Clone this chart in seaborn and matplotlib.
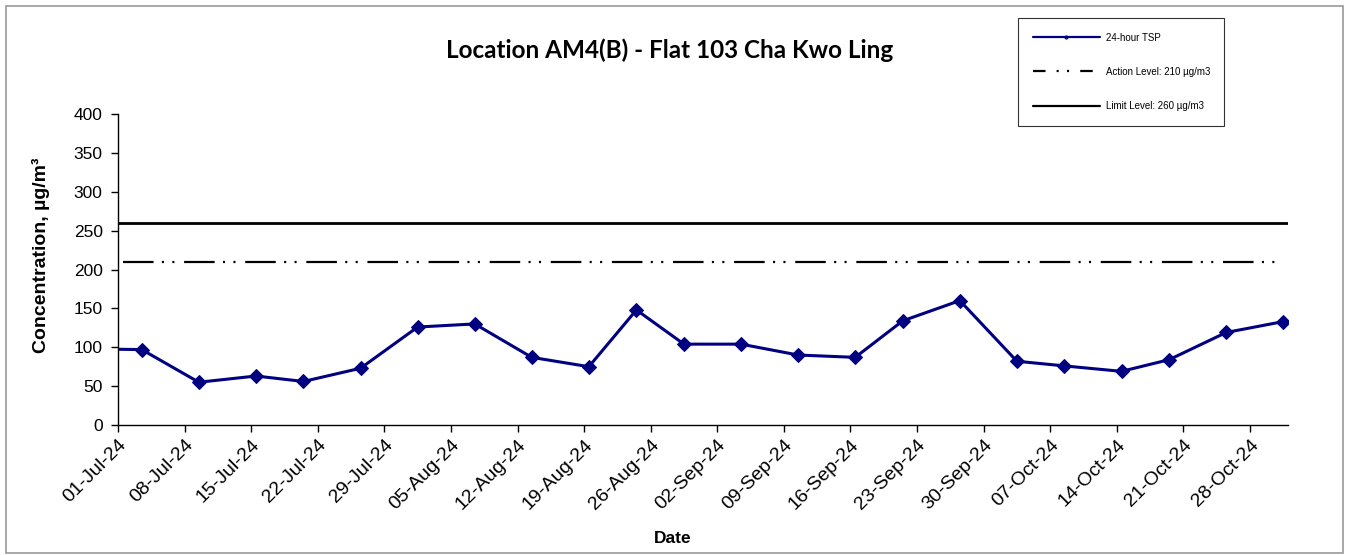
import pandas as pd
import matplotlib
matplotlib.use("Agg")
import matplotlib.pyplot as plt
from matplotlib.lines import Line2D
from matplotlib.patches import Rectangle
import seaborn as sns

# 24-hour TSP readings (first point is before the axis start and gets clipped)
dates = ["2024-06-27", "2024-07-03", "2024-07-09", "2024-07-15", "2024-07-20",
         "2024-07-26", "2024-08-01", "2024-08-07", "2024-08-13", "2024-08-19",
         "2024-08-24", "2024-08-29", "2024-09-04", "2024-09-10", "2024-09-16",
         "2024-09-21", "2024-09-27", "2024-10-03", "2024-10-08", "2024-10-14",
         "2024-10-19", "2024-10-25", "2024-10-31"]
tsp = [98, 97, 55, 63, 56, 73, 126, 130, 87, 75,
       148, 104, 104, 90, 87, 134, 160, 82, 76, 69,
       84, 119, 133]

action_level = 210
limit_level = 260
title = "Location AM4(B) - Flat 103 Cha Kwo Ling"
legend_labels = ["24-hour TSP", "Action Level: 210 µg/m3", "Limit Level: 260 µg/m3"]
x_start = "2024-07-01"
x_end = "2024-11-01"

sns.set_theme(style="white")
plt.rcParams["font.family"] = ["Liberation Sans", "DejaVu Sans"]
plt.rcParams["lines.scale_dashes"] = False
for k in ["text.color", "axes.labelcolor", "xtick.color", "ytick.color"]:
    plt.rcParams[k] = "black"

df = pd.DataFrame({"date": pd.to_datetime(dates) + pd.Timedelta(hours=12), "tsp": tsp})

W, H = 1349, 555
fig = plt.figure(figsize=(W / 100, H / 100), dpi=100)
fig.patches.append(Rectangle((6 / W, 2 / H), (W - 12) / W, (H - 8) / H,
                             transform=fig.transFigure, fill=False,
                             edgecolor="#999999", linewidth=1.2))
ax = fig.add_axes([118 / W, (H - 425) / H, (1288 - 118) / W, (425 - 114) / H])

sns.lineplot(data=df, x="date", y="tsp", ax=ax, color="#000080", linewidth=2.2,
             marker="D", markersize=7, markeredgecolor="#000080")
ax.axhline(limit_level, color="black", linewidth=2.0)
ax.axhline(action_level, color="black", linewidth=1.6,
           dashes=(22, 6, 1.5, 6, 1.5, 7), xmin=0.004, xmax=0.996)

ax.set_xlim(pd.Timestamp(x_start), pd.Timestamp(x_end))
ax.set_ylim(0, 400)
ax.set_yticks(range(0, 401, 50))
ticks = pd.date_range(x_start, x_end, freq="7D")
ax.set_xticks(ticks)
ax.set_xticklabels([t.strftime("%d-%b-%y") for t in ticks], rotation=45,
                   ha="right", rotation_mode="anchor", fontsize=14)
ax.tick_params(axis="y", labelsize=12.5, length=5, width=1, direction="out",
               left=True, pad=6)
ax.tick_params(axis="x", length=5, width=1, direction="out", bottom=True, pad=3)

for s in ["top", "right"]:
    ax.spines[s].set_visible(False)
for s in ["left", "bottom"]:
    ax.spines[s].set_color("black")
    ax.spines[s].set_linewidth(1.0)

ax.set_xlabel("Date", fontsize=12.5, fontweight="bold")
ax.set_ylabel("Concentration, µg/m³", fontsize=14, fontweight="bold")
ax.xaxis.set_label_coords(0.474, -0.341)
ax.yaxis.set_label_coords(-0.058, 0.547)

fig.text(670 / W, 1 - 50 / H, title, ha="center", va="center",
         fontsize=17.5, fontweight="bold", family=["Lato", "DejaVu Sans"])

handles = [
    Line2D([], [], color="#000080", linewidth=1.6, marker="o", markersize=2),
    Line2D([], [], color="black", linewidth=1.6, dashes=(9, 8, 1.5, 6, 1.5, 8)),
    Line2D([], [], color="black", linewidth=1.6),
]
leg = fig.legend(handles, legend_labels, loc="upper left",
                 bbox_to_anchor=(1018 / W, 1 - 18 / H), bbox_transform=fig.transFigure,
                 fontsize=7, frameon=True, fancybox=False, edgecolor="black",
                 handlelength=6.9, handletextpad=0.6, labelspacing=2.5,
                 borderpad=1.5, borderaxespad=0)
leg.get_frame().set_linewidth(0.8)

fig.savefig("out.png", dpi=100)
